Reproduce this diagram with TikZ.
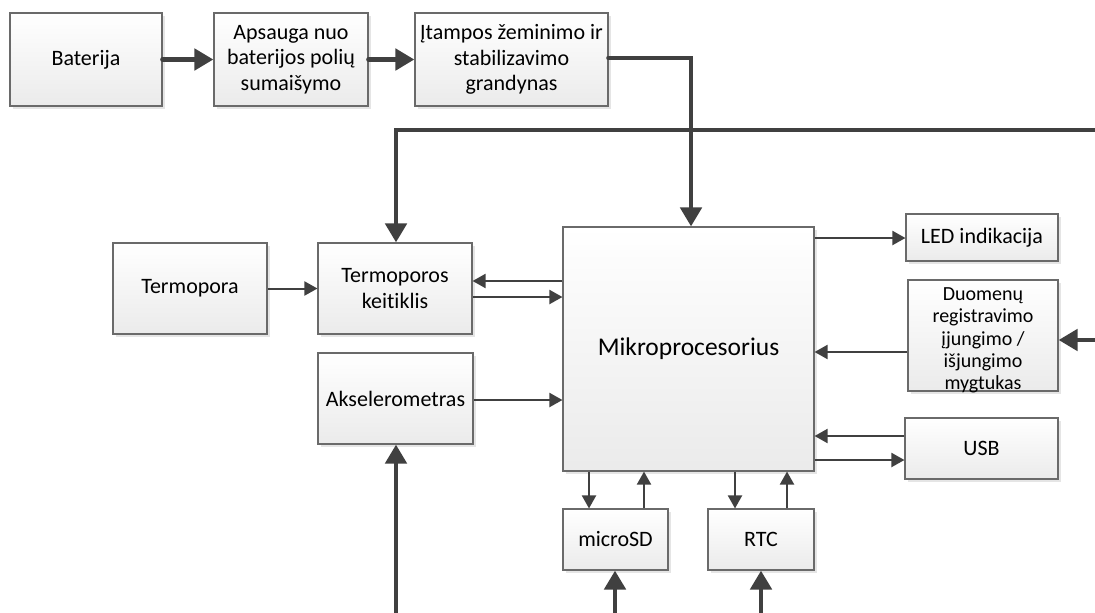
\documentclass[tikz,border=0pt]{standalone}
\usepackage{fontspec}
\setmainfont{Carlito}[Ligatures=NoCommon]
\usetikzlibrary{arrows.meta,shadows}
\definecolor{ln}{HTML}{404040}
\definecolor{bd}{HTML}{6A6A6A}
\tikzset{
  blk/.style={draw=bd, line width=1.1pt, top color=white, bottom color=black!8,
    drop shadow={shadow xshift=2.5pt, shadow yshift=-2.5pt, fill=black!20, opacity=0.5},
    inner sep=0pt, align=center, font=\fontsize{22}{25.5}\selectfont, text=black},
  thin/.style={draw=ln, line width=2pt, -{Triangle[length=13pt,width=14pt]}},
  thick/.style={draw=ln, line width=4.8pt, line cap=round, -{Triangle[length=19pt,width=21pt]}},
}
\begin{document}
\begin{tikzpicture}[x=1pt,y=-1pt]
\useasboundingbox (0,0) rectangle (1095,613);
% boxes
\node[blk, minimum width=152pt, minimum height=93pt] (bat) at (86,59.5) {Baterija};
\node[blk, minimum width=154pt, minimum height=93pt] (aps) at (291,59.5) {Apsauga nuo\\baterijos polių\\sumaišymo};
\node[blk, minimum width=193pt, minimum height=93pt] (itp) at (511.5,59.5) {Įtampos žeminimo ir\\stabilizavimo\\grandynas};
\node[blk, minimum width=154pt, minimum height=91pt] (tp) at (190,288.5) {Termopora};
\node[blk, minimum width=154pt, minimum height=91pt] (tk) at (395,288.5) {Termoporos\\keitiklis};
\node[blk, minimum width=155pt, minimum height=91pt] (ak) at (395.5,398.5) {Akselerometras};
\node[blk, minimum width=251pt, minimum height=244pt, font=\fontsize{25.5}{30}\selectfont] (mp) at (688.5,349) {Mikroprocesorius};
\node[blk, minimum width=152pt, minimum height=47pt] (led) at (982,237.5) {LED indikacija};
\node[blk, minimum width=150pt, minimum height=111pt] (dr) at (983,335.5) {};
\node[align=center, font=\fontsize{20}{22.3}\selectfont, inner sep=0pt] (drt) at (983,340.5) {Duomenų\\registravimo\\įjungimo /\\išjungimo\\mygtukas};
\node[blk, minimum width=153pt, minimum height=61pt] (usb) at (981.5,448.5) {USB};
\node[blk, minimum width=105pt, minimum height=61pt] (sd) at (615.5,539.5) {microSD};
\node[blk, minimum width=106pt, minimum height=61pt] (rtc) at (761,539.5) {RTC};
% free ends
\coordinate (pwrR) at (1095,130);
\coordinate (btnR) at (1095,340);
\coordinate (akB) at (396,613);
\coordinate (sdB) at (615,613);
\coordinate (rtcB) at (761,613);
% thick power lines
\draw[thick] (bat.east) -- (aps.west);
\draw[thick] (aps.east) -- (itp.west);
\draw[thick] (itp.east |- 0,58) -- (691,58) -- (mp.north -| 691,0);
\draw[thick] (pwrR) -- (396,130) -- (tk.north -| 396,0);
\draw[thick] (btnR) -- (dr.east |- btnR);
\draw[thick] (akB) -- (ak.south -| akB);
\draw[thick] (sdB) -- (sd.south -| sdB);
\draw[thick] (rtcB) -- (rtc.south -| rtcB);
% thin signal lines
\draw[thin] (tp.east) -- (tk.west);
\draw[thin] (mp.west |- 0,281) -- (tk.east |- 0,281);
\draw[thin] (tk.east |- 0,297) -- (mp.west |- 0,297);
\draw[thin] (ak.east |- 0,400) -- (mp.west |- 0,400);
\draw[thin] (mp.east |- 0,238) -- (led.west |- 0,238);
\draw[thin] (dr.west |- 0,352) -- (mp.east |- 0,352);
\draw[thin] (usb.west |- 0,436) -- (mp.east |- 0,436);
\draw[thin] (mp.east |- 0,460) -- (usb.west |- 0,460);
\draw[thin] (mp.south -| 589,0) -- (sd.north -| 589,0);
\draw[thin] (sd.north -| 644,0) -- (mp.south -| 644,0);
\draw[thin] (mp.south -| 735,0) -- (rtc.north -| 735,0);
\draw[thin] (rtc.north -| 787,0) -- (mp.south -| 787,0);
\end{tikzpicture}
\end{document}
